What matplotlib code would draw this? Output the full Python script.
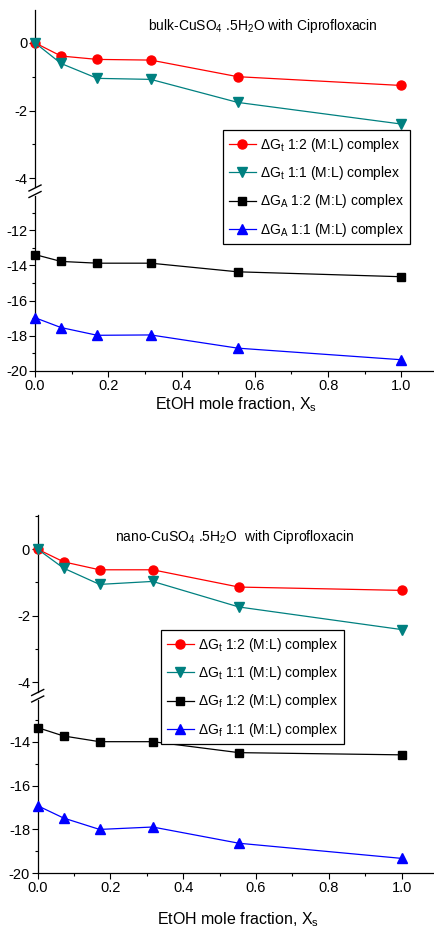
import matplotlib
matplotlib.use("Agg")
import matplotlib.pyplot as plt
from matplotlib.lines import Line2D
from matplotlib.ticker import MultipleLocator, FormatStrFormatter

plt.rcParams['font.family'] = ['Liberation Sans', 'DejaVu Sans']
plt.rcParams['mathtext.default'] = 'regular'

# ---- data ----
x_frac = [0.0, 0.071, 0.17, 0.316, 0.553, 1.0]

bulk_dGt_12 = [0.0, -0.39, -0.49, -0.51, -1.00, -1.26]
bulk_dGt_11 = [0.0, -0.61, -1.05, -1.08, -1.76, -2.40]
bulk_dGA_12 = [-13.38, -13.77, -13.87, -13.87, -14.36, -14.64]
bulk_dGA_11 = [-16.97, -17.53, -17.97, -17.95, -18.70, -19.36]

nano_dGt_12 = [0.0, -0.38, -0.62, -0.62, -1.14, -1.24]
nano_dGt_11 = [0.0, -0.57, -1.06, -0.97, -1.74, -2.42]
nano_dGf_12 = [-13.36, -13.74, -14.00, -14.00, -14.50, -14.60]
nano_dGf_11 = [-16.92, -17.48, -18.00, -17.89, -18.63, -19.32]

bulk_title = "bulk-CuSO$_4$ .5H$_2$O with Ciprofloxacin"
nano_title = "nano-CuSO$_4$ .5H$_2$O  with Ciprofloxacin"
bulk_labels = ["ΔG$_t$ 1:2 (M:L) complex", "ΔG$_t$ 1:1 (M:L) complex",
               "ΔG$_A$ 1:2 (M:L) complex", "ΔG$_A$ 1:1 (M:L) complex"]
nano_labels = ["ΔG$_t$ 1:2 (M:L) complex", "ΔG$_t$ 1:1 (M:L) complex",
               "ΔG$_f$ 1:2 (M:L) complex", "ΔG$_f$ 1:1 (M:L) complex"]
xlabel = "EtOH mole fraction, X$_s$"

W, H = 435, 932
fig = plt.figure(figsize=(W / 100, H / 100), dpi=100)

def fx(px):
    return px / W

def fy(py):
    return 1 - py / H

styles = [dict(color='#ff0000', marker='o', ms=6.5),
          dict(color='#008080', marker='v', ms=7),
          dict(color='#000000', marker='s', ms=5.5),
          dict(color='#0000ff', marker='^', ms=7)]

FS = 10

def make_panel(left, up_top, up_bot, lo_top, lo_bot, up_ylim, lo_ylim,
               series, labels, title, title_xy, leg_xy, xlabel_pad):
    width = fx(W - left + 3)
    ax_u = fig.add_axes([fx(left), fy(up_bot), width, (up_bot - up_top) / H])
    ax_l = fig.add_axes([fx(left), fy(lo_bot), width, (lo_bot - lo_top) / H])
    handles = []
    for i, (vals, st) in enumerate(zip(series, styles)):
        ax = ax_u if i < 2 else ax_l
        h, = ax.plot(x_frac, vals, color=st['color'], marker=st['marker'],
                     markersize=st['ms'], linewidth=0.9, clip_on=False, zorder=3)
        handles.append(h)
    for ax, yl in ((ax_u, up_ylim), (ax_l, lo_ylim)):
        ax.set_xlim(0, 1.1)
        ax.set_ylim(*yl)
        ax.spines['top'].set_visible(False)
        ax.spines['right'].set_visible(False)
        ax.yaxis.set_major_locator(MultipleLocator(2))
        ax.yaxis.set_minor_locator(MultipleLocator(1))
        ax.xaxis.set_major_locator(MultipleLocator(0.2))
        ax.xaxis.set_minor_locator(MultipleLocator(0.1))
        ax.tick_params(which='major', direction='out', length=4, width=0.8,
                       labelsize=FS + 0.5, pad=1.5)
        ax.tick_params(which='minor', direction='out', length=2.5, width=0.8)
        ax.set_facecolor('none')
        for s in ax.spines.values():
            s.set_linewidth(0.9)
    ax_u.spines['bottom'].set_visible(False)
    ax_u.tick_params(axis='x', which='both', bottom=False, labelbottom=False)
    ax_l.xaxis.set_major_formatter(FormatStrFormatter('%.1f'))
    ax_l.yaxis.set_major_formatter(FormatStrFormatter('%d'))
    ax_u.yaxis.set_major_formatter(FormatStrFormatter('%d'))
    ax_l.set_xlabel(xlabel, fontsize=FS + 1.5, labelpad=xlabel_pad)
    fig.text(fx(title_xy[0]), fy(title_xy[1]), title, fontsize=FS,
             ha='center', va='center')
    # break marks
    gy = (up_bot + lo_top) / 2
    for dy in (-3.5, 3.0):
        fig.add_artist(Line2D([fx(left - 6), fx(left + 6)],
                              [fy(gy + dy + 3), fy(gy + dy - 3)],
                              color='black', linewidth=1.0))
    leg = fig.legend(handles, labels, loc='upper left',
                     bbox_to_anchor=(fx(leg_xy[0]), fy(leg_xy[1])),
                     fontsize=FS, frameon=True, fancybox=False,
                     edgecolor='black', framealpha=1, handlelength=2.0,
                     handletextpad=0.3, labelspacing=0.75, borderpad=0.4,
                     borderaxespad=0)
    leg.get_frame().set_linewidth(0.9)
    return ax_u, ax_l

make_panel(35, 10, 187, 196, 371, (-4.26, 0.97), (-20, -10.05),
           [bulk_dGt_12, bulk_dGt_11, bulk_dGA_12, bulk_dGA_11],
           bulk_labels, bulk_title, (263, 26), (223, 130), 2)

make_panel(37.7, 515, 692, 700, 873.3, (-4.3, 1.03), (-20, -12.1),
           [nano_dGt_12, nano_dGt_11, nano_dGf_12, nano_dGf_11],
           nano_labels, nano_title, (234, 537), (161, 630), 11)

fig.savefig("out.png", dpi=100)
